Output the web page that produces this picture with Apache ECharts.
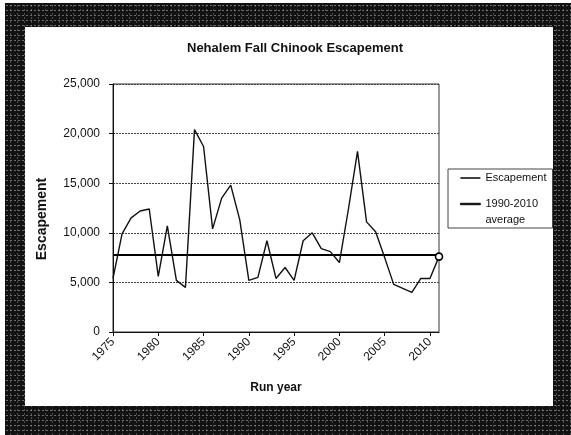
<!DOCTYPE html>
<html>
<head>
<meta charset="utf-8">
<script src="https://cdn.jsdelivr.net/npm/echarts@6/dist/echarts.min.js"></script>
<style>
  html, body { margin: 0; padding: 0; background: #fff; }
  #frame {
    position: absolute; left: 5px; top: 3px; right: 0; bottom: 0;
    background-color: #121212;
    background-image:
      radial-gradient(circle, rgba(200,200,200,0.5) 0.55px, transparent 0.9px),
      radial-gradient(circle, rgba(160,160,160,0.4) 0.55px, transparent 0.9px);
    background-size: 4px 5px, 7px 4px;
    background-position: 0 0, 2px 1px;
  }
  #paper { position: absolute; left: 25px; top: 27px; width: 528px; height: 379px; background: #fff; }
  #main { position: absolute; left: 0; top: 0; width: 571px; height: 435px; }
</style>
</head>
<body>
<div id="frame"></div>
<div id="paper"></div>
<div id="main"></div>
<script>
// run years on the x axis
var years = ['1975', '1976', '1977', '1978', '1979', '1980', '1981', '1982', '1983', '1984',
  '1985', '1986', '1987', '1988', '1989', '1990', '1991', '1992', '1993', '1994',
  '1995', '1996', '1997', '1998', '1999', '2000', '2001', '2002', '2003', '2004',
  '2005', '2006', '2007', '2008', '2009', '2010', '2011'];

// fall chinook escapement
var escapement = [5400, 9900, 11500, 12200, 12400, 5600, 10700, 5200, 4500, 20400,
  18700, 10400, 13500, 14800, 11300, 5200, 5500, 9200, 5400, 6500,
  5200, 9200, 10000, 8400, 8100, 7000, 12400, 18200, 11100, 10100,
  7500, 4800, 4400, 4000, 5400, 5400, 7600];

// 1990-2010 average
var avgValue = 7740;
var avgName = '1990-2010\naverage';

var font = 'Arial, "Liberation Sans", sans-serif';

var chart = echarts.init(document.getElementById('main'), null, { renderer: 'canvas' });

// only the last point gets the small open circle
var escData = escapement.map(function (v, i) {
  if (i === escapement.length - 1) return v;
  return { value: v, symbol: 'none' };
});

var option = {
  backgroundColor: 'transparent',
  animation: false,
  title: {
    text: 'Nehalem Fall Chinook Escapement',
    left: 290,
    textAlign: 'center',
    top: 37,
    textStyle: { fontFamily: font, fontSize: 13, fontWeight: 'bold', color: '#111' }
  },
  legend: {
    orient: 'vertical',
    left: 448,
    top: 169,
    width: 103,
    padding: [1, 6, 0, 12],
    itemGap: -6,
    itemWidth: 20,
    itemHeight: 1.5,
    icon: 'rect',
    borderColor: '#444',
    borderWidth: 1,
    textStyle: { fontFamily: font, fontSize: 11, color: '#111', lineHeight: 16 },
    // empty first line keeps "1990-2010" level with its line sample
    formatter: function (name) {
      return name === avgName ? '\n' + name : name;
    },
    data: [
      { name: 'Escapement', itemStyle: { color: '#000', borderWidth: 0 } },
      { name: avgName, itemStyle: { color: '#000', borderColor: '#000', borderWidth: 0.8 } }
    ]
  },
  grid: {
    left: 113,
    right: 132,
    top: 84,
    bottom: 103,
    show: true,
    borderColor: '#333',
    borderWidth: 1,
    backgroundColor: 'transparent'
  },
  xAxis: {
    type: 'category',
    data: years,
    boundaryGap: false,
    name: 'Run year',
    nameLocation: 'middle',
    nameGap: 50,
    nameTextStyle: { fontFamily: font, fontSize: 12, fontWeight: 'bold', color: '#111' },
    axisLine: { lineStyle: { color: '#111', width: 1 } },
    axisTick: { interval: 4, length: 4, lineStyle: { color: '#111' } },
    axisLabel: {
      interval: 4,
      rotate: 45,
      margin: 8,
      fontFamily: font,
      fontSize: 12,
      color: '#111'
    },
    splitLine: { show: false }
  },
  yAxis: {
    type: 'value',
    min: 0,
    max: 25000,
    interval: 5000,
    name: 'Escapement',
    nameLocation: 'middle',
    nameGap: 64,
    nameTextStyle: { fontFamily: font, fontSize: 14, fontWeight: 'bold', color: '#111', padding: [0, 22, 0, 0] },
    axisLine: { show: true, lineStyle: { color: '#111', width: 1 } },
    axisTick: { show: true, length: 4, lineStyle: { color: '#111' } },
    axisLabel: {
      margin: 13,
      fontFamily: font,
      fontSize: 12,
      color: '#111',
      formatter: function (v) { return v.toLocaleString('en-US'); }
    },
    splitLine: { show: true, lineStyle: { color: '#444', width: 1, type: [2, 1] } }
  },
  series: [
    {
      name: 'Escapement',
      type: 'line',
      data: escData,
      symbol: 'circle',
      symbolSize: 7,
      showSymbol: true,
      showAllSymbol: true,
      clip: false,
      itemStyle: { color: '#fff', borderColor: '#000', borderWidth: 1.6 },
      lineStyle: { color: '#111', width: 1.4 },
      color: '#111',
      z: 5
    },
    {
      name: avgName,
      type: 'line',
      data: [],
      symbol: 'none',
      color: '#000',
      lineStyle: { color: '#000', width: 2.2 },
      markLine: {
        silent: true,
        symbol: 'none',
        label: { show: false },
        lineStyle: { color: '#000', width: 2.2, type: 'solid' },
        data: [{ yAxis: avgValue }]
      },
      z: 2
    }
  ]
};

chart.setOption(option);
</script>
</body>
</html>
